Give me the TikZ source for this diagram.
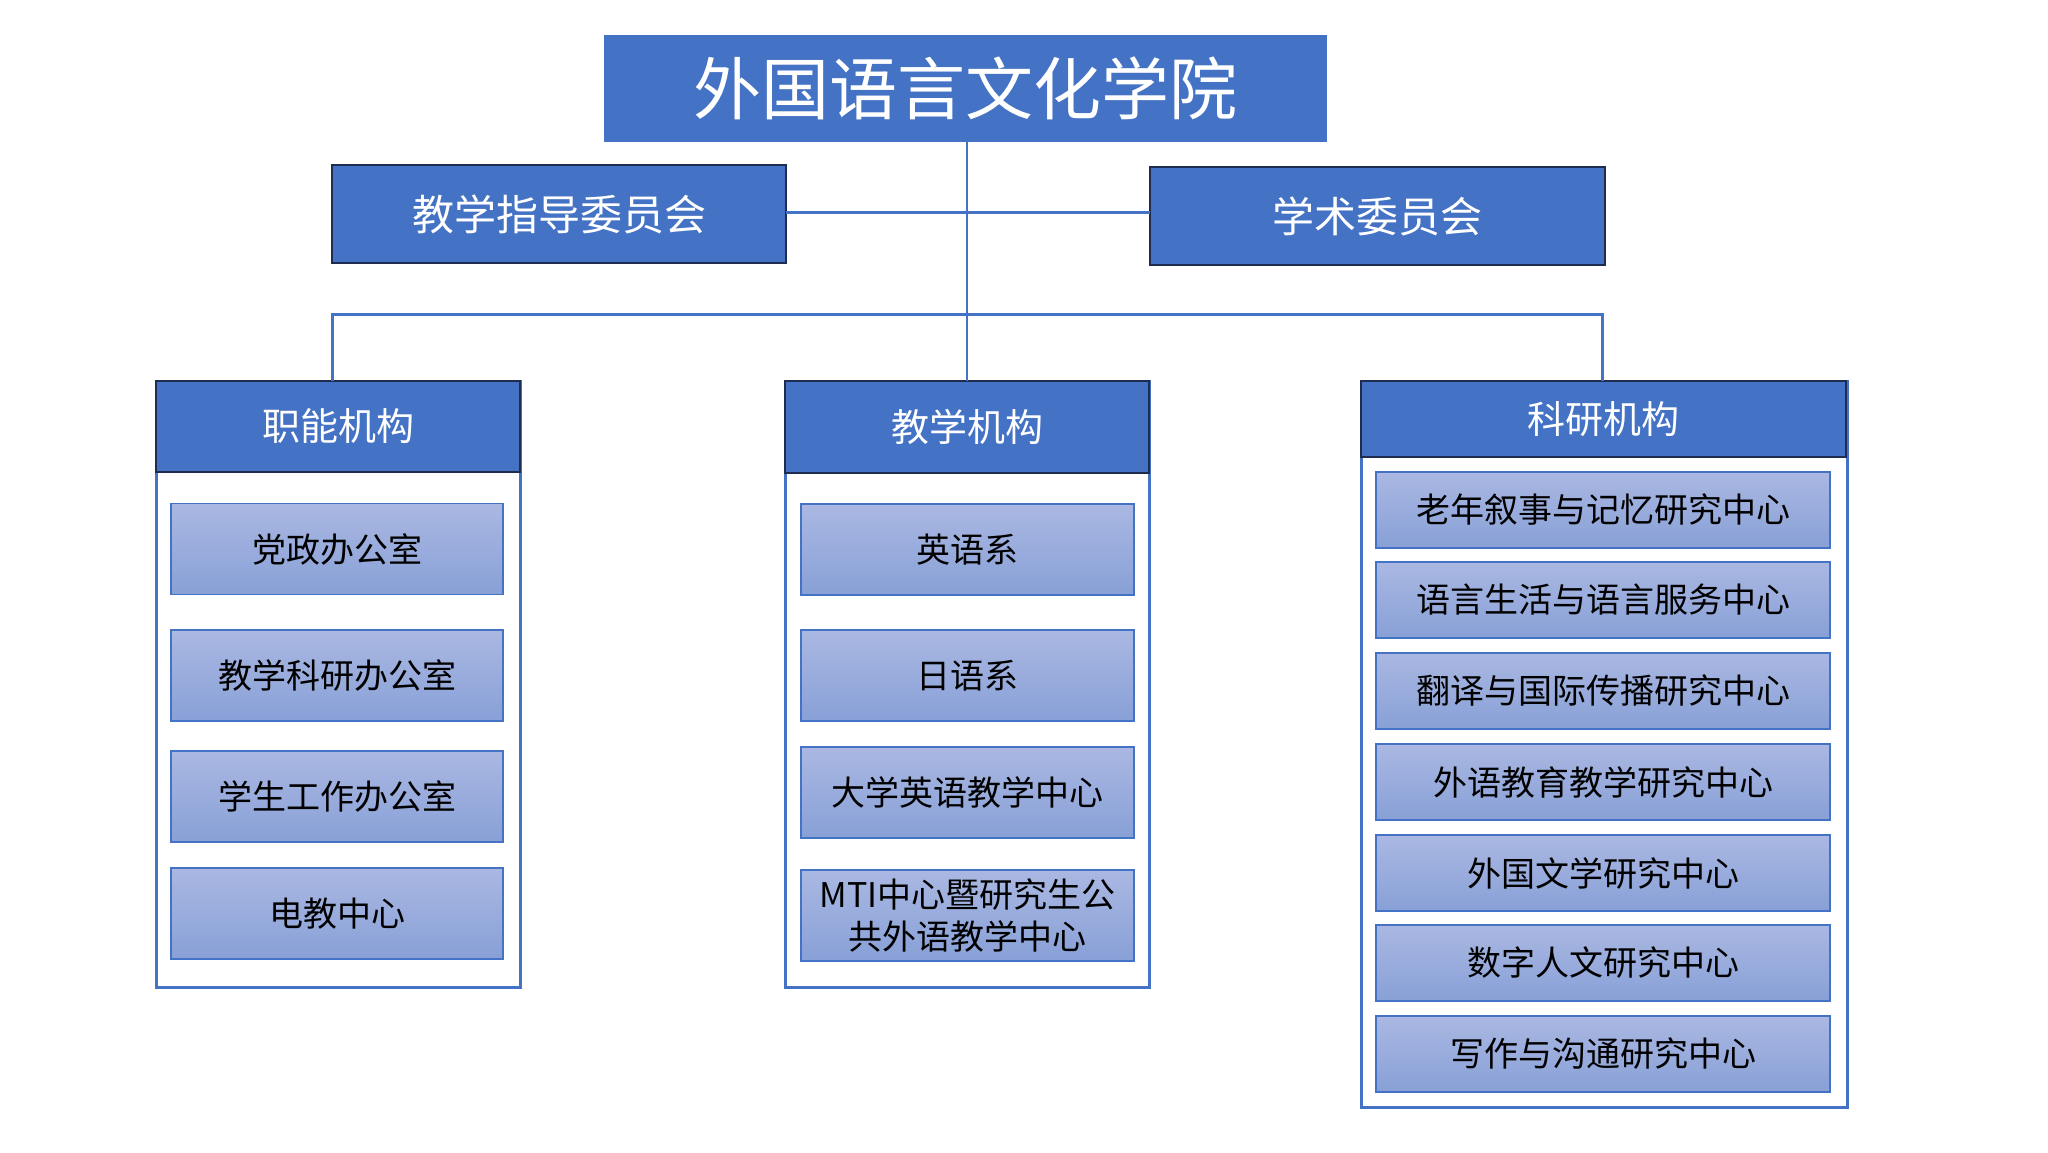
\documentclass[tikz,border=0pt]{standalone}
\usepackage{fontspec}
\newfontfamily\cjk{Noto Sans CJK SC}
\definecolor{accent}{HTML}{4472C4}
\definecolor{navy}{RGB}{30,44,80}
\definecolor{subtop}{RGB}{170,184,226}
\definecolor{subbot}{RGB}{136,160,215}
\tikzset{
  box/.style={rectangle, inner sep=0pt, outer sep=0pt, align=center},
  titlebox/.style={box, fill=accent, draw=accent, line width=1pt, text=white, font=\cjk\fontsize{68}{80}\selectfont},
  commbox/.style={box, fill=accent, draw=navy, line width=2.5pt, text=white, font=\cjk\fontsize{42}{50}\selectfont},
  hdrbox/.style={box, fill=accent, draw=navy, line width=2.5pt, text=white, font=\cjk\fontsize{38}{46}\selectfont},
  panel/.style={box, fill=white, draw=accent, line width=3pt},
  unitbox/.style={box, top color=subtop, bottom color=subbot, draw=accent, line width=1.5pt, text=black, font=\cjk\fontsize{34}{42}\selectfont},
  link/.style={draw=accent, line width=3pt},
}
\begin{document}
\begin{tikzpicture}[x=1pt,y=-1pt]
\useasboundingbox[fill=white] (0,0) rectangle (2048,1152);

% panels
\node[panel, minimum width=364, minimum height=606] (p1) at (338,684) {};
\node[panel, minimum width=364, minimum height=606] (p2) at (967,684) {};
\node[panel, minimum width=486, minimum height=726] (p3) at (1604,744) {};

% title and committees
\node[titlebox, minimum width=722, minimum height=106] (title) at (965,88) {外国语言文化学院};
\node[commbox, minimum width=454, minimum height=98] (c1) at (559,214) {教学指导委员会};
\node[commbox, minimum width=455, minimum height=98] (c2) at (1377.5,216) {学术委员会};

% headers
\node[hdrbox, minimum width=364, minimum height=91] (h1) at (338,426.5) {职能机构};
\node[hdrbox, minimum width=364, minimum height=92] (h2) at (967,427) {教学机构};
\node[hdrbox, minimum width=485, minimum height=76] (h3) at (1603.5,419) {科研机构};

% left units
\node[unitbox, minimum width=332, minimum height=91] (a1) at (337,549) {党政办公室};
\node[unitbox, minimum width=332, minimum height=91] (a2) at (337,675.5) {教学科研办公室};
\node[unitbox, minimum width=332, minimum height=91] (a3) at (337,796.5) {学生工作办公室};
\node[unitbox, minimum width=332, minimum height=91] (a4) at (337,913.5) {电教中心};

% middle units
\node[unitbox, minimum width=333, minimum height=91] (b1) at (967.5,549.5) {英语系};
\node[unitbox, minimum width=333, minimum height=91] (b2) at (967.5,675.5) {日语系};
\node[unitbox, minimum width=333, minimum height=91] (b3) at (967.5,792.5) {大学英语教学中心};
\node[unitbox, minimum width=333, minimum height=91] (b4) at (967.5,915.5) {MTI中心暨研究生公\\共外语教学中心};

% right units
\node[unitbox, minimum width=454, minimum height=76] (r1) at (1603,510) {老年叙事与记忆研究中心};
\node[unitbox, minimum width=454, minimum height=76] (r2) at (1603,600) {语言生活与语言服务中心};
\node[unitbox, minimum width=454, minimum height=76] (r3) at (1603,691) {翻译与国际传播研究中心};
\node[unitbox, minimum width=454, minimum height=76] (r4) at (1603,782) {外语教育教学研究中心};
\node[unitbox, minimum width=454, minimum height=76] (r5) at (1603,873) {外国文学研究中心};
\node[unitbox, minimum width=454, minimum height=76] (r6) at (1603,963) {数字人文研究中心};
\node[unitbox, minimum width=454, minimum height=76] (r7) at (1603,1054) {写作与沟通研究中心};

% connectors
\coordinate (busL) at (332,314);
\coordinate (busR) at (1602,314);
\coordinate (trunk) at (967,212);
\draw[link, line width=2.5pt] (trunk |- title.south) -- (trunk |- h2.north);
\draw[link] (c1.east |- trunk) -- (c2.west |- trunk);
\draw[link] (busL |- h1.north) -- (busL) -- (busR) -- (busR |- h3.north);
\end{tikzpicture}
\end{document}
